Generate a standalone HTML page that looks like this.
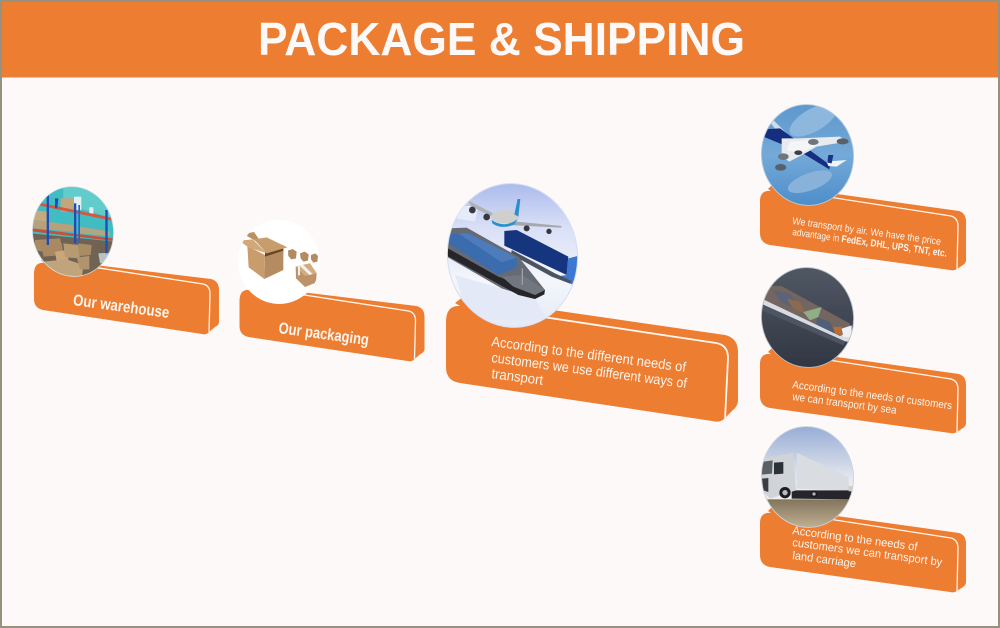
<!DOCTYPE html>
<html lang="en">
<head>
<meta charset="utf-8">
<title>Package &amp; Shipping</title>
<style>
html,body{margin:0;padding:0;background:#fdf9f8;}
svg{display:block;}
text{font-family:"Liberation Sans",sans-serif;}
</style>
</head>
<body>
<svg width="1000" height="628" viewBox="0 0 1000 628" xmlns="http://www.w3.org/2000/svg">
<defs>
  <clipPath id="c1"><ellipse cx="73" cy="231.500" rx="40.500" ry="45" transform="rotate(-7.500 73 231.500)"/></clipPath>
  <clipPath id="c2"><ellipse cx="279" cy="262" rx="41" ry="42" transform="rotate(-7.500 279 262)"/></clipPath>
  <clipPath id="c3"><ellipse cx="512.500" cy="255.500" rx="65" ry="72" transform="rotate(-7.500 512.500 255.500)"/></clipPath>
  <clipPath id="c4"><ellipse cx="807.500" cy="155" rx="46" ry="50.500" transform="rotate(-7.500 807.500 155)"/></clipPath>
  <clipPath id="c5"><ellipse cx="807.500" cy="317.500" rx="46" ry="50" transform="rotate(-7.500 807.500 317.500)"/></clipPath>
  <clipPath id="c6"><ellipse cx="807.500" cy="477" rx="46" ry="50.500" transform="rotate(-7.500 807.500 477)"/></clipPath>
  <linearGradient id="g3" x1="0" y1="0" x2="0" y2="1">
    <stop offset="0" stop-color="#a9b9ec"/><stop offset=".3" stop-color="#d8dff6"/><stop offset=".65" stop-color="#f4f6fb"/><stop offset="1" stop-color="#e3e9f6"/>
  </linearGradient>
  <linearGradient id="g4" x1="0" y1="0" x2="0" y2="1">
    <stop offset="0" stop-color="#5c97cd"/><stop offset=".5" stop-color="#74a9d8"/><stop offset="1" stop-color="#4b8cc8"/>
  </linearGradient>
  <linearGradient id="g5" x1="0" y1="0" x2="0" y2="1">
    <stop offset="0" stop-color="#515865"/><stop offset="1" stop-color="#2f3541"/>
  </linearGradient>
  <linearGradient id="g6" x1="0" y1="0" x2="0" y2="1">
    <stop offset="0" stop-color="#93a9d3"/><stop offset=".7" stop-color="#e6e9f0"/><stop offset="1" stop-color="#f2efe8"/>
  </linearGradient>
  <linearGradient id="g6r" x1="0" y1="0" x2="0" y2="1">
    <stop offset="0" stop-color="#82745c"/><stop offset="1" stop-color="#c4b496"/>
  </linearGradient>
  <filter id="soft" x="-5%" y="-5%" width="110%" height="110%"><feGaussianBlur stdDeviation=".9"/></filter>
  <path id="smallCard" d="M34 274Q34 262 44 263L41 260L46 259L211 279Q219 281 219 290L219 322Q219 325 215 327L208 333Q206 335 202 334L43 310Q34 308 34 299Z" fill="#ed7d31"/>
  <path id="sideCard" d="M760 201Q760 190 771 191L768 189L772 185L959 211Q966 213 966 222L966 260Q966 263 963 265L957 269Q954 271 950 270L770 245Q760 243 760 233Z" fill="#ed7d31"/>
</defs>

<rect width="1000" height="628" fill="#fdf9f8"/>
<rect x="1" y="1" width="998" height="626" fill="none" stroke="#97917f" stroke-width="2"/>
<rect x="2" y="2" width="996" height="75.500" fill="#ed7d31"/>
<text x="258" y="55" font-size="46" font-weight="700" fill="#fdf9f8" textLength="487" lengthAdjust="spacingAndGlyphs">PACKAGE &amp; SHIPPING</text>

<!-- cards -->
<use href="#smallCard"/>
<path d="M60 262L203 284Q210 285.500 210 294L209 332" fill="none" stroke="#fff6ee" stroke-width="1.300"/>
<g transform="translate(205.500 27)">
  <use href="#smallCard"/>
  <path d="M60 262L203 284Q210 285.500 210 294L209 332" fill="none" stroke="#fff6ee" stroke-width="1.300"/>
</g>
<path d="M446 322Q446 305 460 306L455 303L463 297L725 335Q738 338 738 352L738 400Q738 406 733 410L724 419Q720 423 712 421L460 383Q446 381 446 367Z" fill="#ed7d31"/>
<path d="M470 306L716 343Q728 345 728 358L725 420" fill="none" stroke="#fff6ee" stroke-width="1.800"/>
<use href="#sideCard"/>
<path d="M790 191L951 216Q958 218 958 226L957 269" fill="none" stroke="#fff6ee" stroke-width="1.300"/>
<g transform="translate(0 163)">
  <use href="#sideCard"/>
  <path d="M790 191L951 216Q958 218 958 226L957 269" fill="none" stroke="#fff6ee" stroke-width="1.300"/>
</g>
<g transform="translate(0 322)">
  <use href="#sideCard"/>
  <path d="M790 191L951 216Q958 218 958 226L957 269" fill="none" stroke="#fff6ee" stroke-width="1.300"/>
</g>

<!-- warehouse -->
<g clip-path="url(#c1)"><g filter="url(#soft)" transform="translate(0 170) scale(.33333)">
  <rect x="90" y="40" width="270" height="290" fill="#3fbcc2"/>
  <polygon points="190,50 350,50 350,150 290,130 190,100" fill="#62cbcb"/>
  <rect x="222" y="80" width="22" height="40" fill="#dfeff2"/>
  <rect x="268" y="112" width="12" height="24" fill="#dfeff2"/>
  <polygon points="90,190 345,215 345,340 90,340" fill="#6f6353"/>
  <rect x="182" y="85" width="38" height="40" fill="#c2a67c"/>
  <polygon points="98,150 220,165 220,185 98,175" fill="#b9a07a"/>
  <polygon points="100,120 140,125 140,155 100,150" fill="#c5a97f"/>
  <polygon points="240,170 330,185 330,198 240,190" fill="#b5a481"/>
  <polygon points="105,210 180,205 190,245 150,250 105,240" fill="#a98a64"/>
  <polygon points="125,215 185,220 190,255 130,260" fill="#a98862"/>
  <polygon points="165,245 205,240 205,275 170,275" fill="#caa67a"/>
  <polygon points="190,220 235,225 240,265 195,262" fill="#b89a72"/>
  <polygon points="235,220 275,225 272,255 238,258" fill="#a88c66"/>
  <polygon points="130,275 200,268 250,285 245,330 180,330" fill="#c2a47c"/>
  <polygon points="230,262 268,258 268,298 240,298" fill="#b09470"/>
  <polygon points="295,250 330,248 330,275 300,280" fill="#b9c4c6"/>
  <polygon points="115,97 335,143 335,152 115,106" fill="#d9563c"/>
  <polygon points="96,175 340,205 340,213 96,184" fill="#c84f38"/>
  <rect x="140" y="75" width="7" height="150" fill="#1f4fb5"/>
  <rect x="222" y="100" width="7" height="120" fill="#1f4fb5"/>
  <rect x="235" y="105" width="5" height="115" fill="#2a62c8"/>
  <rect x="316" y="120" width="7" height="130" fill="#1f4fb5"/>
  <polygon points="165,85 175,85 172,115 165,115" fill="#1f4fb5"/>
</g></g>
<ellipse cx="73" cy="231.500" rx="40.500" ry="45" transform="rotate(-7.500 73 231.500)" fill="none" stroke="#cfe0e4" stroke-width=".8"/>

<!-- packaging -->
<ellipse cx="279" cy="262" rx="41" ry="42" transform="rotate(-7.500 279 262)" fill="#ffffff"/>
<g clip-path="url(#c2)"><g filter="url(#soft)" transform="translate(230 210) scale(.33333)">
  <polygon points="105,125 160,105 160,130 105,150" fill="#6b4526"/>
  <polygon points="52,108 105,135 103,207 56,172" fill="#c99c6c"/>
  <polygon points="105,140 160,122 160,180 103,207" fill="#b58b62"/>
  <polygon points="28,92 68,88 110,130 55,112" fill="#d2a878"/>
  <polygon points="40,72 72,66 108,118 72,90" fill="#bc915f"/>
  <polygon points="72,88 110,82 172,112 110,130" fill="#c89d6c"/>
  <polygon points="174,122 188,117 200,125 198,145 184,148 175,138" fill="#b48a60"/>
  <polygon points="210,130 224,125 236,133 234,152 220,155 212,145" fill="#b48a60"/>
  <polygon points="243,135 256,130 264,138 262,155 250,158 243,148" fill="#b48a60"/>
  <polygon points="197,170 240,160 260,190 258,218 225,231 198,205" fill="#bd9268"/>
  <polygon points="197,170 240,160 260,190 225,198" fill="#d2ac80"/>
  <polygon points="208,166 218,163 248,192 238,195" fill="#f4f0ea"/>
  <rect x="204" y="168" width="6" height="28" fill="#f4f0ea"/>
</g></g>

<!-- transport overview -->
<g clip-path="url(#c3)"><g filter="url(#soft)" transform="translate(435 175) scale(.33333)">
  <rect x="20" y="20" width="430" height="450" fill="url(#g3)"/>
  <polygon points="60,90 130,95 120,140 60,130" fill="#e6ebf9"/>
  <polygon points="60,300 300,370 340,440 100,430" fill="#e3e9f6"/>
  <polygon points="97,75 175,115 170,125 110,95" fill="#aeb2b8"/>
  <polygon points="225,138 380,153 378,158 220,150" fill="#a4a8ae"/>
  <ellipse cx="210" cy="125" rx="42" ry="20" fill="#cfcfcd"/>
  <path d="M170 135Q210 162 248 132L238 148Q200 165 172 145Z" fill="#2a8fd0"/>
  <polygon points="248,72 256,72 250,125 238,118" fill="#2a8fc8"/>
  <circle cx="112" cy="105" r="10" fill="#34383e"/>
  <circle cx="155" cy="126" r="10" fill="#34383e"/>
  <circle cx="275" cy="160" r="9" fill="#34383e"/>
  <circle cx="342" cy="169" r="8" fill="#34383e"/>
  <polygon points="400,250 440,240 440,335 415,330 362,305 395,300" fill="#3c78d2"/>
  <polygon points="230,225 360,295 410,318 405,326 350,305 228,238" fill="#4b5260"/>
  <polygon points="208,168 245,165 400,245 395,300 208,212" fill="#16357f"/>
  <polygon points="35,160 95,158 250,245 330,345 300,372 200,340 35,245" fill="#666b74"/>
  <polygon points="35,218 190,305 260,330 330,345 328,358 300,372 250,360 35,242" fill="#26282c"/>
  <polygon points="40,178 100,175 245,248 245,278 190,300 40,205" fill="#3b6cae"/>
  <polygon points="70,175 100,175 245,248 200,262" fill="#4d7cbc"/>
  <polygon points="200,305 262,300 330,345 300,360 235,335" fill="#72777f"/>
  <rect x="260" y="280" width="4" height="50" fill="#9aa0a6"/>
</g></g>
<ellipse cx="512.500" cy="255.500" rx="65" ry="72" transform="rotate(-7.500 512.500 255.500)" fill="none" stroke="#d6def2" stroke-width="1"/>

<!-- air -->
<g clip-path="url(#c4)"><g filter="url(#soft)" transform="translate(750 100) scale(.33333)">
  <rect x="20" y="5" width="310" height="320" fill="url(#g4)"/>
  <ellipse cx="190" cy="60" rx="80" ry="34" fill="#8db7dd" transform="rotate(-30 190 60)"/>
  <ellipse cx="180" cy="245" rx="70" ry="26" fill="#88b2da" transform="rotate(-20 180 245)"/>
  <polygon points="55,60 70,60 125,115 105,125" fill="#cfdbe6"/>
  <polygon points="40,88 90,85 240,195 238,208 150,155 40,110" fill="#172e80"/>
  <polygon points="95,115 145,115 270,110 290,125 200,140 175,155 118,185 95,170" fill="#e8eaee"/>
  <polygon points="120,125 180,120 200,135 150,160 110,150" fill="#f4f5f7"/>
  <polygon points="230,185 290,180 260,200 235,198" fill="#f2f3f5"/>
  <polygon points="235,165 250,165 245,190 232,188" fill="#1b3389"/>
  <ellipse cx="190" cy="126" rx="16" ry="9" fill="#6e757d"/>
  <ellipse cx="278" cy="124" rx="18" ry="9" fill="#5a6068"/>
  <ellipse cx="100" cy="170" rx="16" ry="10" fill="#6e757d"/>
  <ellipse cx="92" cy="202" rx="17" ry="10" fill="#5a6068"/>
  <ellipse cx="145" cy="158" rx="12" ry="7" fill="#3c4148"/>
</g></g>
<ellipse cx="807.500" cy="155" rx="46" ry="50.500" transform="rotate(-7.500 807.500 155)" fill="none" stroke="#b4cbe0" stroke-width=".9"/>

<!-- sea -->
<g clip-path="url(#c5)"><g filter="url(#soft)" transform="translate(750 262) scale(.33333)">
  <rect x="20" y="10" width="310" height="320" fill="url(#g5)"/>
  <polygon points="50,72 95,72 300,185 300,205 270,225 40,112" fill="#73655e"/>
  <polygon points="70,85 120,95 160,150 90,120" fill="#5c6478"/>
  <polygon points="200,165 240,180 255,215 200,190" fill="#4f5e78"/>
  <polygon points="110,110 150,120 165,155 130,140" fill="#8c6a50"/>
  <polygon points="160,150 215,135 205,165 180,175" fill="#8fae88"/>
  <polygon points="250,195 275,195 275,220 255,215" fill="#bd6d30"/>
  <polygon points="35,112 40,112 270,222 305,205 305,240 285,238 35,126" fill="#d8dce2"/>
  <polygon points="35,126 285,238 280,250 35,145" fill="#4d5562"/>
  <polygon points="275,200 305,190 305,225 280,225" fill="#eef0f3"/>
</g></g>
<ellipse cx="807.500" cy="317.500" rx="46" ry="50" transform="rotate(-7.500 807.500 317.500)" fill="none" stroke="#b9bec6" stroke-width=".9"/>

<!-- land -->
<g clip-path="url(#c6)"><g filter="url(#soft)" transform="translate(750 422) scale(.33333)">
  <rect x="20" y="5" width="310" height="240" fill="url(#g6)"/>
  <rect x="20" y="232" width="310" height="90" fill="url(#g6r)"/>
  <polygon points="140,92 295,165 298,205 140,200" fill="#d9dce1"/>
  <polygon points="125,205 305,205 305,232 125,230" fill="#26272a"/>
  <polygon points="32,110 130,92 138,205 60,230 35,205" fill="#d0d3d7"/>
  <polygon points="32,120 68,115 66,155 32,158" fill="#5a5f66"/>
  <polygon points="72,122 100,120 100,155 72,157" fill="#2c3036"/>
  <polygon points="36,170 55,168 55,210 40,205" fill="#3a3d42"/>
  <rect x="296" y="192" width="18" height="16" fill="#d0cfc2"/>
  <circle cx="105" cy="212" r="17" fill="#1d1e20"/>
  <circle cx="105" cy="212" r="8" fill="#b7babf"/>
  <circle cx="192" cy="216" r="11" fill="#1d1e20"/>
  <circle cx="192" cy="216" r="5" fill="#aeb1b6"/>
</g></g>
<ellipse cx="807.500" cy="477" rx="46" ry="50.500" transform="rotate(-7.500 807.500 477)" fill="none" stroke="#c9d2e2" stroke-width=".9"/>

<!-- labels -->
<g fill="#fdf4ec">
  <text x="72.500" y="305" font-size="16" font-weight="700" textLength="97" lengthAdjust="spacingAndGlyphs" transform="rotate(7.700 72.500 305)">Our warehouse</text>
  <text x="278" y="333" font-size="16" font-weight="700" textLength="91" lengthAdjust="spacingAndGlyphs" transform="rotate(7.700 278 333)">Our packaging</text>

  <text x="491" y="346" font-size="14" textLength="196" lengthAdjust="spacingAndGlyphs" transform="rotate(7.600 491 346)">According to the different needs of</text>
  <text x="491" y="362" font-size="14" textLength="197" lengthAdjust="spacingAndGlyphs" transform="rotate(7.600 491 362)">customers we use different ways of</text>
  <text x="491" y="378" font-size="14" textLength="52" lengthAdjust="spacingAndGlyphs" transform="rotate(7.600 491 378)">transport</text>

  <text x="792" y="224" font-size="10" textLength="150" lengthAdjust="spacingAndGlyphs" transform="rotate(8 792 224)">We transport by air. We have the price</text>
  <text x="792" y="235" font-size="10" textLength="156" lengthAdjust="spacingAndGlyphs" transform="rotate(8 792 235)">advantage in <tspan font-weight="700">FedEx, DHL, UPS, TNT, etc.</tspan></text>

  <text x="792" y="388" font-size="11" textLength="161" lengthAdjust="spacingAndGlyphs" transform="rotate(7.600 792 388)">According to the needs of customers</text>
  <text x="792" y="400" font-size="11" textLength="105" lengthAdjust="spacingAndGlyphs" transform="rotate(7.600 792 400)">we can transport by sea</text>

  <text x="792" y="534" font-size="11.500" textLength="126" lengthAdjust="spacingAndGlyphs" transform="rotate(7.600 792 534)">According to the needs of</text>
  <text x="792" y="546" font-size="11.500" textLength="151" lengthAdjust="spacingAndGlyphs" transform="rotate(7.600 792 546)">customers we can transport by</text>
  <text x="792" y="559" font-size="11.500" textLength="64" lengthAdjust="spacingAndGlyphs" transform="rotate(7.600 792 559)">land carriage</text>
</g>
</svg>
</body>
</html>
